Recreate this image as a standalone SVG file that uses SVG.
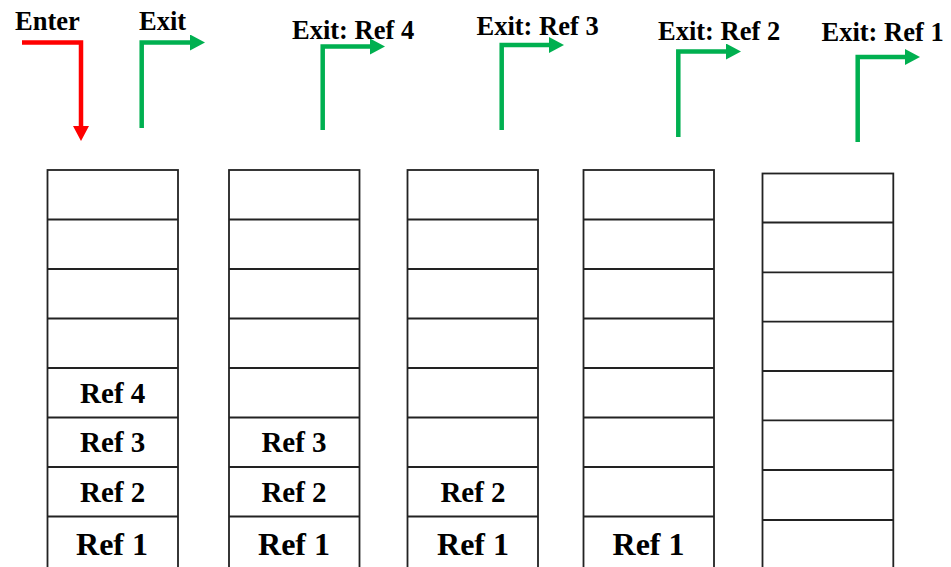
<svg xmlns="http://www.w3.org/2000/svg" width="951" height="567" viewBox="0 0 951 567">
  <style>
    .cell { fill: #ffffff; stroke: #222222; stroke-width: 1.8; }
    .row { stroke: #222222; stroke-width: 1.8; }
    .lbl { font-family: "Liberation Serif", "Times New Roman", serif; font-weight: bold; fill: #000000; }
    .ref { font-size: 29px; text-anchor: middle; }
    .ref1 { font-size: 32px; text-anchor: middle; }
    .head { font-size: 26.5px; }
    .enter { fill: none; stroke: #ff0000; stroke-width: 4.5; }
    .exit { fill: none; stroke: #00b050; stroke-width: 4.5; }
  </style>
  <defs>
    <marker id="arrowRed" markerUnits="userSpaceOnUse" markerWidth="16" markerHeight="16" refX="0" refY="8" orient="auto">
      <path d="M0,0 L15,8 L0,16 Z" fill="#ff0000"/>
    </marker>
    <marker id="arrowGreen" markerUnits="userSpaceOnUse" markerWidth="16" markerHeight="16" refX="0" refY="8" orient="auto">
      <path d="M0,0 L15,8 L0,16 Z" fill="#00b050"/>
    </marker>
  </defs>

  <rect width="951" height="567" fill="#ffffff"/>

  <!-- headings -->
  <g id="labels">
    <text class="lbl head" x="15" y="30">Enter</text>
    <text class="lbl head" x="139" y="30">Exit</text>
    <text class="lbl head" x="292" y="38.5">Exit: Ref 4</text>
    <text class="lbl head" x="476.5" y="34.5">Exit: Ref 3</text>
    <text class="lbl head" x="658" y="40">Exit: Ref 2</text>
    <text class="lbl head" x="821.5" y="41">Exit: Ref 1</text>
  </g>

  <!-- enter / exit arrows -->
  <g id="connectors">
    <polyline class="enter" points="22,42.5 81,42.5 81,126" marker-end="url(#arrowRed)"/>
    <polyline class="exit" points="141.7,128 141.7,42.5 190,42.5" marker-end="url(#arrowGreen)"/>
    <polyline class="exit" points="322.7,130 322.7,46.5 370,46.5" marker-end="url(#arrowGreen)"/>
    <polyline class="exit" points="501.7,130 501.7,45 549,45" marker-end="url(#arrowGreen)"/>
    <polyline class="exit" points="678.3,137 678.3,51.5 726,51.5" marker-end="url(#arrowGreen)"/>
    <polyline class="exit" points="857.7,142 857.7,57 905,57" marker-end="url(#arrowGreen)"/>
  </g>

  <!-- stack 1: Ref 1..4 -->
  <g id="stack1">
    <rect class="cell" x="47.5" y="170" width="130.5" height="410"/>
    <line class="row" x1="47.5" y1="219.5" x2="178" y2="219.5"/>
    <line class="row" x1="47.5" y1="269" x2="178" y2="269"/>
    <line class="row" x1="47.5" y1="318.5" x2="178" y2="318.5"/>
    <line class="row" x1="47.5" y1="368" x2="178" y2="368"/>
    <line class="row" x1="47.5" y1="417.5" x2="178" y2="417.5"/>
    <line class="row" x1="47.5" y1="467" x2="178" y2="467"/>
    <line class="row" x1="47.5" y1="516.5" x2="178" y2="516.5"/>
    <text class="lbl ref" x="112.7" y="402.7">Ref 4</text>
    <text class="lbl ref" x="112.7" y="452.3">Ref 3</text>
    <text class="lbl ref" x="112.7" y="501.7">Ref 2</text>
    <text class="lbl ref1" x="112" y="555">Ref 1</text>
  </g>

  <!-- stack 2: Ref 1..3 -->
  <g id="stack2">
    <rect class="cell" x="229" y="170" width="130.5" height="410"/>
    <line class="row" x1="229" y1="219.5" x2="359.5" y2="219.5"/>
    <line class="row" x1="229" y1="269" x2="359.5" y2="269"/>
    <line class="row" x1="229" y1="318.5" x2="359.5" y2="318.5"/>
    <line class="row" x1="229" y1="368" x2="359.5" y2="368"/>
    <line class="row" x1="229" y1="417.5" x2="359.5" y2="417.5"/>
    <line class="row" x1="229" y1="467" x2="359.5" y2="467"/>
    <line class="row" x1="229" y1="516.5" x2="359.5" y2="516.5"/>
    <text class="lbl ref" x="294" y="452.3">Ref 3</text>
    <text class="lbl ref" x="294" y="501.7">Ref 2</text>
    <text class="lbl ref1" x="294" y="555">Ref 1</text>
  </g>

  <!-- stack 3: Ref 1..2 -->
  <g id="stack3">
    <rect class="cell" x="407.5" y="170" width="130.5" height="410"/>
    <line class="row" x1="407.5" y1="219.5" x2="538" y2="219.5"/>
    <line class="row" x1="407.5" y1="269" x2="538" y2="269"/>
    <line class="row" x1="407.5" y1="318.5" x2="538" y2="318.5"/>
    <line class="row" x1="407.5" y1="368" x2="538" y2="368"/>
    <line class="row" x1="407.5" y1="417.5" x2="538" y2="417.5"/>
    <line class="row" x1="407.5" y1="467" x2="538" y2="467"/>
    <line class="row" x1="407.5" y1="516.5" x2="538" y2="516.5"/>
    <text class="lbl ref" x="473" y="501.7">Ref 2</text>
    <text class="lbl ref1" x="473" y="555">Ref 1</text>
  </g>

  <!-- stack 4: Ref 1 -->
  <g id="stack4">
    <rect class="cell" x="583.5" y="170" width="130.5" height="410"/>
    <line class="row" x1="583.5" y1="219.5" x2="714" y2="219.5"/>
    <line class="row" x1="583.5" y1="269" x2="714" y2="269"/>
    <line class="row" x1="583.5" y1="318.5" x2="714" y2="318.5"/>
    <line class="row" x1="583.5" y1="368" x2="714" y2="368"/>
    <line class="row" x1="583.5" y1="417.5" x2="714" y2="417.5"/>
    <line class="row" x1="583.5" y1="467" x2="714" y2="467"/>
    <line class="row" x1="583.5" y1="516.5" x2="714" y2="516.5"/>
    <text class="lbl ref1" x="648.5" y="555">Ref 1</text>
  </g>

  <!-- stack 5: empty -->
  <g id="stack5">
    <rect class="cell" x="762.5" y="173.5" width="130.8" height="410"/>
    <line class="row" x1="762.5" y1="222.5" x2="893.3" y2="222.5"/>
    <line class="row" x1="762.5" y1="272.3" x2="893.3" y2="272.3"/>
    <line class="row" x1="762.5" y1="321.7" x2="893.3" y2="321.7"/>
    <line class="row" x1="762.5" y1="371" x2="893.3" y2="371"/>
    <line class="row" x1="762.5" y1="420.3" x2="893.3" y2="420.3"/>
    <line class="row" x1="762.5" y1="470" x2="893.3" y2="470"/>
    <line class="row" x1="762.5" y1="520" x2="893.3" y2="520"/>
  </g>
</svg>
